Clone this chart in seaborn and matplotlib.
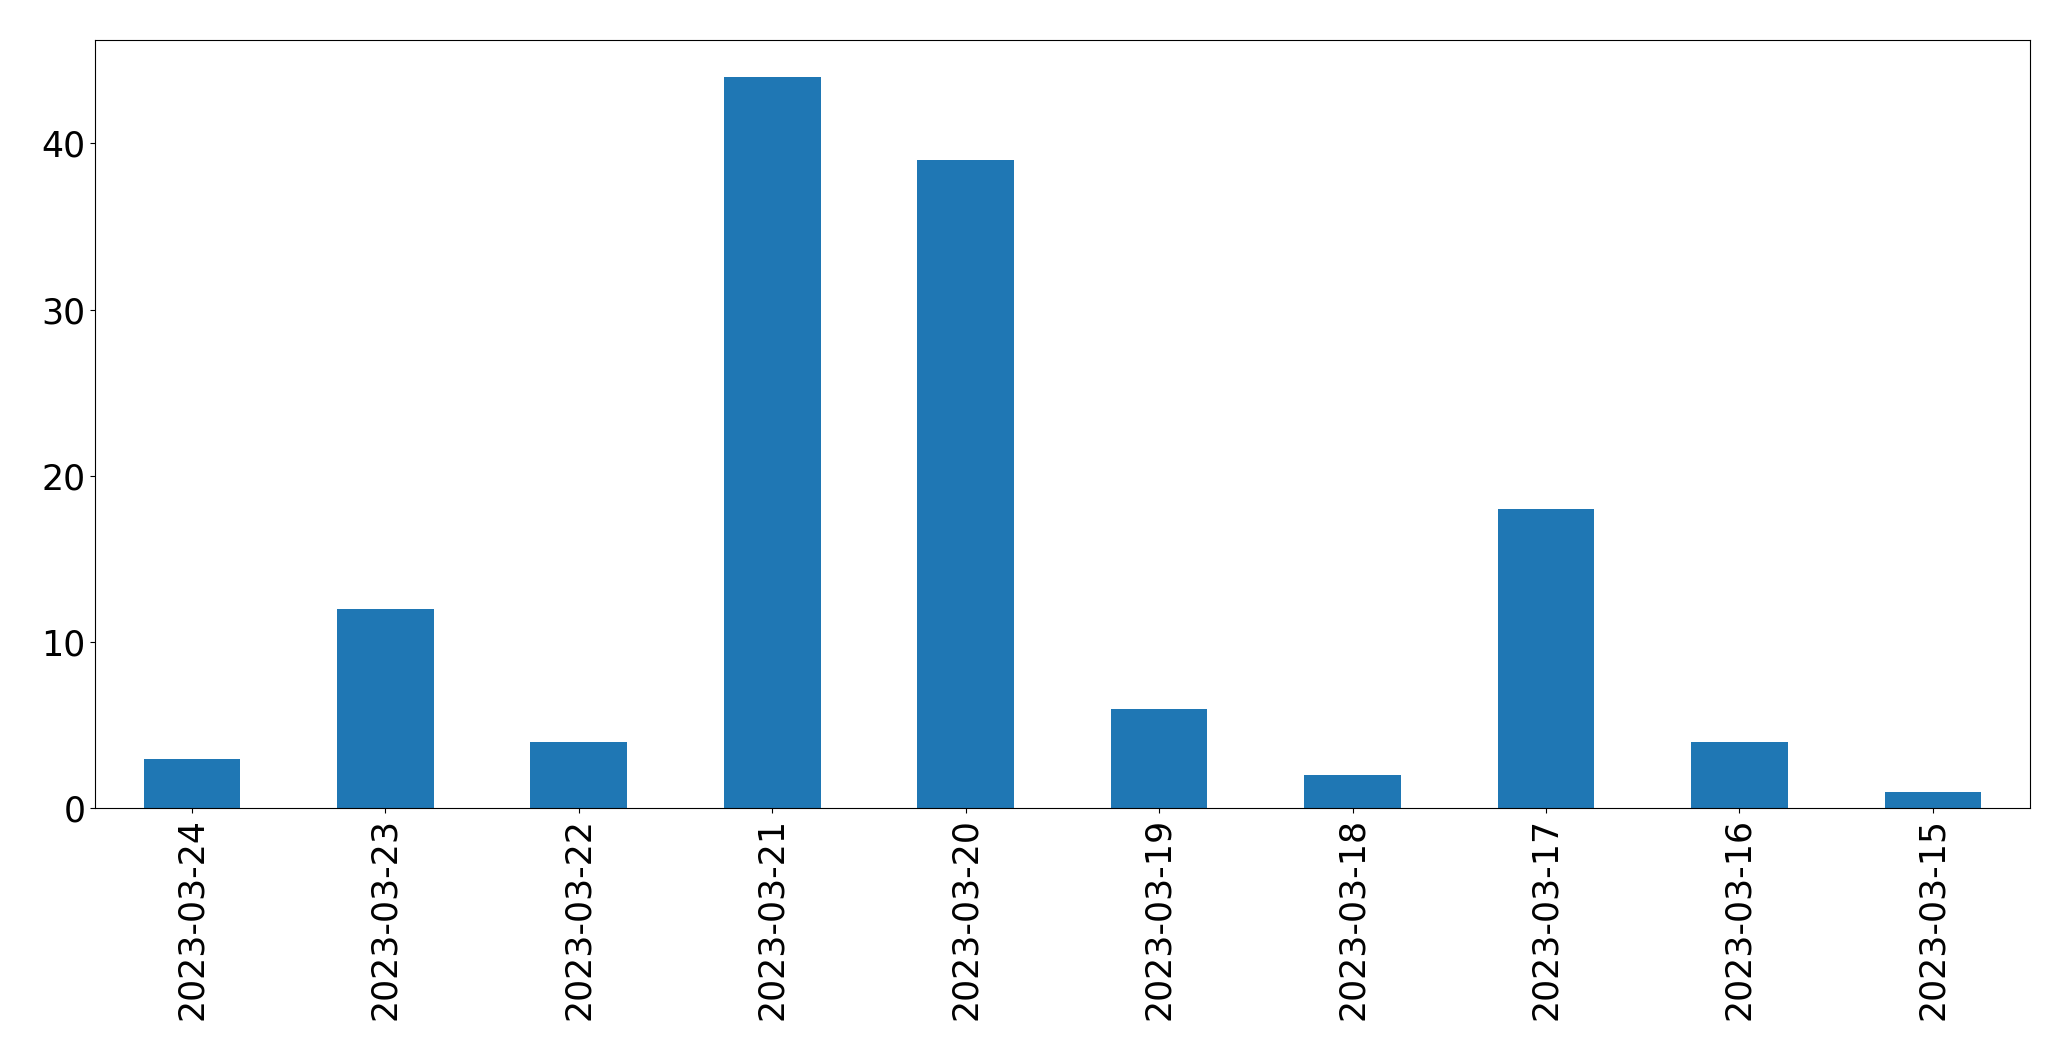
import matplotlib
matplotlib.use("Agg")
import matplotlib.pyplot as plt
import seaborn as sns
import pandas as pd

dates = ["2023-03-24", "2023-03-23", "2023-03-22", "2023-03-21", "2023-03-20",
         "2023-03-19", "2023-03-18", "2023-03-17", "2023-03-16", "2023-03-15"]
counts = [3, 12, 4, 44, 39, 6, 2, 18, 4, 1]

df = pd.DataFrame({"date": dates, "count": counts})

fig, ax = plt.subplots(figsize=(20.71, 10.61), dpi=100)
sns.barplot(data=df, x="date", y="count", order=dates, color="#1f77b4",
            saturation=1, width=0.5, ax=ax)
ax.set_xlim(-0.5, len(dates) - 0.5)
ax.set_xlabel("")
ax.set_ylabel("")
ax.tick_params(axis="both", labelsize=25)
plt.setp(ax.get_xticklabels(), rotation=90)
fig.subplots_adjust(left=0.046, right=0.980, top=0.962, bottom=0.238)
fig.savefig("out.png", dpi=100)
